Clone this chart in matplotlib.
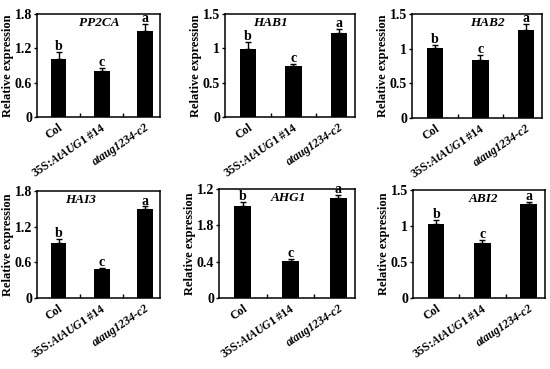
import matplotlib
matplotlib.use("Agg")
import matplotlib.pyplot as plt
from matplotlib.ticker import FixedLocator

plt.rcParams["font.family"] = "Liberation Serif"
plt.rcParams["font.weight"] = "bold"
plt.rcParams["mathtext.fontset"] = "custom"
plt.rcParams["mathtext.rm"] = "Liberation Serif:bold"
plt.rcParams["mathtext.it"] = "Liberation Serif:italic:bold"

categories = ["Col", "35S:$AtAUG1$ #14", "ataug1234-c2"]
genes = ["PP2CA", "HAB1", "HAB2", "HAI3", "AHG1", "ABI2"]
letters = ["b", "c", "a"]

means = {
    "PP2CA": [1.01, 0.81, 1.51],
    "HAB1": [0.99, 0.74, 1.23],
    "HAB2": [1.01, 0.83, 1.27],
    "HAI3": [0.93, 0.48, 1.50],
    "AHG1": [1.015, 0.41, 1.10],
    "ABI2": [1.03, 0.765, 1.305],
}
errors = {
    "PP2CA": [0.12, 0.04, 0.11],
    "HAB1": [0.10, 0.03, 0.05],
    "HAB2": [0.05, 0.08, 0.09],
    "HAI3": [0.06, 0.03, 0.04],
    "AHG1": [0.045, 0.015, 0.035],
    "ABI2": [0.06, 0.04, 0.035],
}
yticks = {
    "PP2CA": [0, 0.6, 1.2, 1.8],
    "HAB1": [0, 0.5, 1.0, 1.5],
    "HAB2": [0, 0.5, 1.0, 1.5],
    "HAI3": [0, 0.6, 1.2, 1.8],
    "AHG1": [0, 0.4, 0.8, 1.2],
    "ABI2": [0, 0.5, 1.0, 1.5],
}
ytick_labels = {
    "PP2CA": ["0", "0.6", "1.2", "1.8"],
    "HAB1": ["0", "0.5", "1", "1.5"],
    "HAB2": ["0", "0.5", "1", "1.5"],
    "HAI3": ["0", "0.6", "1.2", "1.8"],
    "AHG1": ["0", "0.4", "1.8", "1.2"],
    "ABI2": ["0", "0.5", "1", "1.5"],
}

# axes boxes in pixels: left, top, right, bottom
boxes = [
    (37, 14, 160, 117),
    (225, 14, 355, 117),
    (412, 14, 542, 118),
    (37, 191, 160, 298),
    (219, 189, 355, 298),
    (413, 190, 545, 298),
]
# gene name x position inside each panel (axes fraction)
title_x = [0.51, 0.35, 0.58, 0.35, 0.51, 0.53]

W, H = 550, 369
fig = plt.figure(figsize=(5.5, 3.69), dpi=100)

x = [1, 2, 3]
for gene, (l, t, r, b), tx in zip(genes, boxes, title_x):
    ax = fig.add_axes([l / W, 1 - b / H, (r - l) / W, (b - t) / H])
    m = means[gene]
    e = errors[gene]
    ax.bar(x, m, width=0.36, color="black",
           yerr=[[0, 0, 0], e], error_kw=dict(ecolor="black", elinewidth=1, capsize=2.5, capthick=1))
    top = yticks[gene][-1]
    for xi, mi, ei, lt in zip(x, m, e, letters):
        ax.text(xi, mi + ei - top * 0.01, lt, ha="center", va="bottom", fontsize=10, fontweight="bold")
    ax.text(tx, 0.97, gene, transform=ax.transAxes, ha="center", va="top",
            fontsize=9.5, fontweight="bold", fontstyle="italic")
    ax.set_ylim(0, top)
    ax.set_xlim(0.5, 3.35)
    ax.set_yticks(yticks[gene])
    ax.set_yticklabels(ytick_labels[gene], fontsize=10, fontweight="bold")
    ax.set_xticks(x)
    ax.set_xticklabels(categories, rotation=34, ha="right", rotation_mode="anchor",
                       fontsize=8.5, fontweight="bold")
    ax.get_xticklabels()[2].set_fontstyle("italic")
    ax.xaxis.set_minor_locator(FixedLocator([1.5, 2.5]))
    ax.tick_params(axis="x", which="major", length=0, pad=3)
    ax.tick_params(axis="x", which="minor", direction="in", length=3, width=1)
    ax.tick_params(axis="y", direction="out", length=2.5, width=1, pad=1)
    ax.set_ylabel("Relative expression", fontsize=9, fontweight="bold", labelpad=0.5)
    for s in ax.spines.values():
        s.set_linewidth(1.1)

fig.savefig("out.png", dpi=100)
